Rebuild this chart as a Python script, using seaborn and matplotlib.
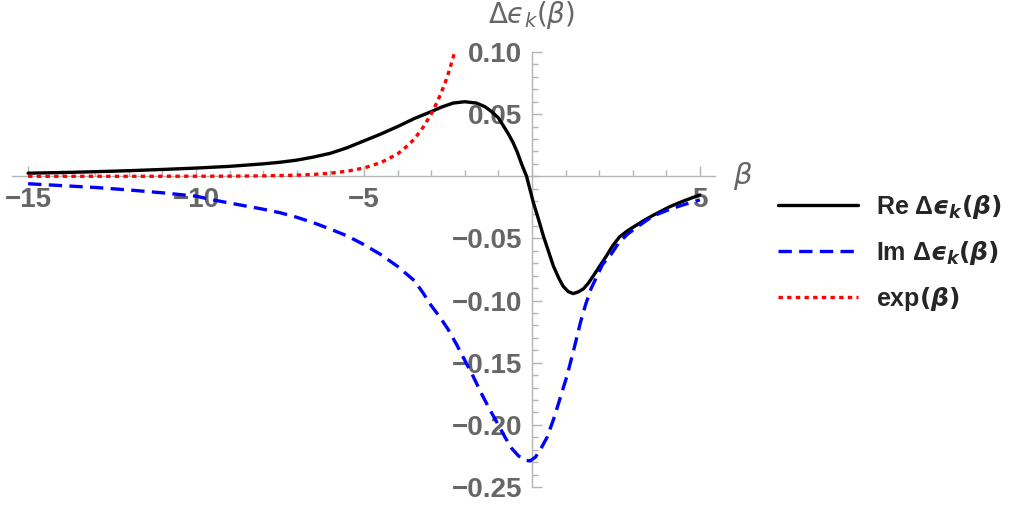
import numpy as np
import pandas as pd
import matplotlib
matplotlib.use("Agg")
import matplotlib.pyplot as plt
import seaborn as sns
from matplotlib.ticker import FixedLocator, MultipleLocator
from matplotlib.lines import Line2D

# ---- data ----
re_beta = [-15, -14, -13, -12, -11, -10, -9, -8, -7.5, -7, -6.5, -6, -5.5, -5, -4.5, -4,
           -3.5, -3.0, -2.7, -2.35, -2.0, -1.65, -1.4, -1.2, -1.0, -0.85, -0.7, -0.56,
           -0.43, -0.31, -0.16, 0.04, 0.2, 0.34, 0.5, 0.64, 0.8, 0.93, 1.08, 1.23, 1.38,
           1.53, 1.68, 1.83, 2.0, 2.22, 2.4, 2.6, 2.85, 3.1, 3.35, 3.6, 4.1, 4.5, 5.0]
re_vals = [0.0025, 0.003, 0.0037, 0.0045, 0.0055, 0.0066, 0.008, 0.010, 0.0113, 0.013,
           0.0155, 0.0185, 0.023, 0.0285, 0.034, 0.040, 0.0465, 0.052, 0.0556, 0.0589,
           0.060, 0.0589, 0.056, 0.052, 0.047, 0.0406, 0.034, 0.027, 0.019, 0.010, 0.0,
           -0.021, -0.035, -0.048, -0.061, -0.0723, -0.082, -0.0885, -0.0928, -0.0944,
           -0.093, -0.0906, -0.086, -0.080, -0.073, -0.064, -0.056, -0.049, -0.0437,
           -0.0395, -0.0353, -0.0315, -0.0245, -0.020, -0.015]

im_beta = [-15, -14, -13, -12, -11, -10, -9.5, -9, -8.5, -8, -7.5, -7, -6.5, -6, -5.5,
           -5, -4.5, -4, -3.5, -3.25, -3.0, -2.75, -2.5, -2.25, -2.0, -1.75, -1.5, -1.25,
           -1.0, -0.8, -0.6, -0.4, -0.2, -0.05, 0.1, 0.25, 0.45, 0.65, 0.8, 1.05, 1.25,
           1.45, 1.6, 1.75, 2.1, 2.35, 2.6, 2.85, 3.1, 3.6, 4.1, 4.5, 5.0]
im_vals = [-0.006, -0.0075, -0.009, -0.011, -0.0133, -0.016, -0.019, -0.0215, -0.024,
           -0.0265, -0.0293, -0.033, -0.0374, -0.0425, -0.048, -0.055, -0.063, -0.0725,
           -0.084, -0.0935, -0.104, -0.113, -0.123, -0.135, -0.148, -0.161, -0.175,
           -0.188, -0.200, -0.210, -0.219, -0.225, -0.2285, -0.229, -0.226, -0.220,
           -0.210, -0.195, -0.182, -0.160, -0.139, -0.117, -0.103, -0.091, -0.071,
           -0.063, -0.053, -0.0465, -0.0414, -0.032, -0.0266, -0.023, -0.019]

exp_beta = [-15, -12, -10, -9, -8, -7, -6.5, -6, -5.5, -5, -4.5, -4, -3.75, -3.5, -3.25,
            -3, -2.8, -2.6, -2.45, -2.3]
exp_vals = [0.0, 0.0, 0.00005, 0.0001, 0.0003, 0.0009, 0.0015, 0.0025, 0.0041, 0.0067,
            0.011, 0.018, 0.0235, 0.030, 0.039, 0.050, 0.061, 0.074, 0.086, 0.100]

x_major = [-15, -10, -5, 5]
x_labels = ["\u221215", "\u221210", "\u22125", "5"]
y_major = [0.10, 0.05, -0.05, -0.10, -0.15, -0.20, -0.25]
y_labels = ["0.10", "0.05", "\u22120.05", "\u22120.10", "\u22120.15", "\u22120.20", "\u22120.25"]
legend_labels = ["Re Δ$ϵ_{k}(\\beta)$", "Im Δ$ϵ_{k}(\\beta)$", "exp$(\\beta)$"]
x_name = "$\\beta$"
y_name = "Δ$ϵ_k(\\beta)$"

sns.set_style("white")
plt.rcParams["font.family"] = ["Liberation Sans", "DejaVu Sans"]
plt.rcParams["mathtext.fontset"] = "custom"
plt.rcParams["mathtext.rm"] = "DejaVu Sans:bold"
plt.rcParams["mathtext.it"] = "DejaVu Sans:italic:bold"
plt.rcParams["mathtext.bf"] = "DejaVu Sans:bold"

W, H = 1023, 509
fig = plt.figure(figsize=(W / 100, H / 100), dpi=100)
ax = fig.add_axes([12 / W, (H - 487) / H, 703 / W, 435 / H])

gray = "#666666"
axc = "#b4b4b4"

df_re = pd.DataFrame({"beta": re_beta, "v": re_vals})
df_im = pd.DataFrame({"beta": im_beta, "v": im_vals})
df_ex = pd.DataFrame({"beta": exp_beta, "v": exp_vals})

lw = 2.4
blue_ls = (0, (4, 2.2))
red_ls = (0, (1.3, 1.3))
sns.lineplot(data=df_re, x="beta", y="v", ax=ax, color="black", lw=lw, zorder=5,
             sort=False, estimator=None)
sns.lineplot(data=df_im, x="beta", y="v", ax=ax, color="#0000ff", lw=lw, zorder=5,
             sort=False, estimator=None, linestyle=blue_ls)
sns.lineplot(data=df_ex, x="beta", y="v", ax=ax, color="#ff0000", lw=lw, zorder=5,
             sort=False, estimator=None, linestyle=red_ls)
for ln in ax.get_lines():
    ln.set_solid_joinstyle("round")
    ln.set_dash_joinstyle("round")

ax.set_xlim(-15.48, 5.45)
ax.set_ylim(-0.25, 0.10)
ax.set_xlabel("")
ax.set_ylabel("")

for s in ["top", "right"]:
    ax.spines[s].set_visible(False)
ax.spines["left"].set_position(("data", 0))
ax.spines["bottom"].set_position(("data", 0))
for s in ["left", "bottom"]:
    ax.spines[s].set_color(axc)
    ax.spines[s].set_linewidth(1.0)

ax.xaxis.set_major_locator(FixedLocator(x_major))
ax.set_xticklabels(x_labels)
ax.xaxis.set_minor_locator(MultipleLocator(1))
ax.yaxis.set_major_locator(FixedLocator(y_major))
ax.set_yticklabels(y_labels)
ax.yaxis.set_minor_locator(MultipleLocator(0.01))

ax.tick_params(which="both", direction="in", color=axc, width=1.0,
               bottom=True, left=True, top=False, right=False)
ax.tick_params(which="major", length=7)
ax.tick_params(which="minor", length=4.5)
ax.tick_params(axis="x", which="major", pad=8, labelsize=20, labelcolor=gray)
ax.tick_params(axis="y", which="major", pad=7, labelsize=20, labelcolor=gray)
for lab in ax.get_xticklabels() + ax.get_yticklabels():
    lab.set_fontweight("bold")

ax.text(6.0, 0.0, x_name, fontsize=21, color=gray, ha="left", va="center",
        clip_on=False, math_fontfamily="dejavusans")
ax.text(0.0, 0.13, y_name, fontsize=20, color=gray, ha="center", va="center",
        clip_on=False, math_fontfamily="dejavusans", family=["DejaVu Sans"])

handles = [Line2D([], [], color="black", lw=lw),
           Line2D([], [], color="#0000ff", lw=lw, linestyle=blue_ls),
           Line2D([], [], color="#ff0000", lw=lw, linestyle=red_ls)]
leg = fig.legend(handles, legend_labels, loc="center left",
                 bbox_to_anchor=(755 / W, 1 - 253 / H), frameon=False,
                 prop={"size": 18, "weight": "bold"}, handlelength=3.2,
                 handletextpad=0.75, labelspacing=0.72)

fig.savefig("out.png", dpi=100)
